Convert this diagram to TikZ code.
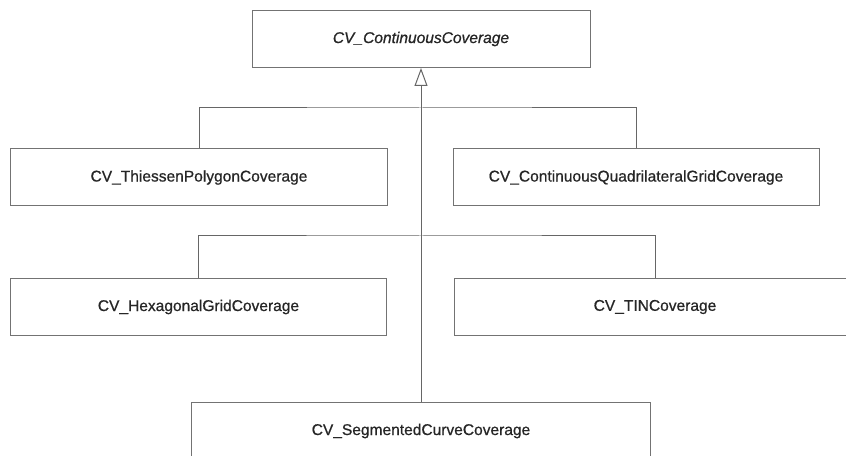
\documentclass[tikz,border=0pt]{standalone}
\usepackage{fontspec}
\newfontfamily\lblfont[FakeBold=0.7]{Liberation Sans}
\usetikzlibrary{arrows.meta}

\begin{document}
\begin{tikzpicture}[
  x=1bp, y=-1bp,
  font=\lblfont\fontsize{15.6}{18}\selectfont,
  cls/.style ={draw=black!55, line width=1bp, fill=white, text=black!85, minimum height=57bp, inner sep=0pt},
  abst/.style={cls, font=\lblfont\itshape\fontsize{15.6}{18}\selectfont},
  gen/.style ={-{Triangle[open, length=18bp, width=13bp, fill=white]}, line width=1bp, draw=black!60},
  link/.style={line width=1bp, draw=black!60},
]
\clip (0,0) rectangle (846,456);
\fill[white] (0,0) rectangle (846,456);

% ---------- parent ----------
\node[abst, minimum width=338bp] (cont) at (421,39) {CV\_ContinuousCoverage};

% ---------- subclasses ----------
\node[cls, minimum width=376bp] (thiessen) at (199,177.5) {CV\_ThiessenPolygonCoverage};
\node[cls, minimum width=366bp] (quad)     at (636,177.5) {CV\_ContinuousQuadrilateralGridCoverage};
\node[cls, minimum width=375bp] (hex)      at (198.5,307) {CV\_HexagonalGridCoverage};
\node[cls, minimum width=402bp] (tin)      at (655,307)   {CV\_TINCoverage};
\node[cls, minimum width=458bp] (seg)      at (421,431)   {CV\_SegmentedCurveCoverage};

% ---------- generalization ----------
\coordinate (bar1) at (seg.north |- 0,108);
\coordinate (bar2) at (seg.north |- 0,236);
\draw[link] (thiessen.north) |- (bar1) -| (quad.north);
\draw[link] (hex.north) |- (bar2) -| (tin.north);
\draw[gen] (seg.north) -- (cont.south);

\end{tikzpicture}
\end{document}
